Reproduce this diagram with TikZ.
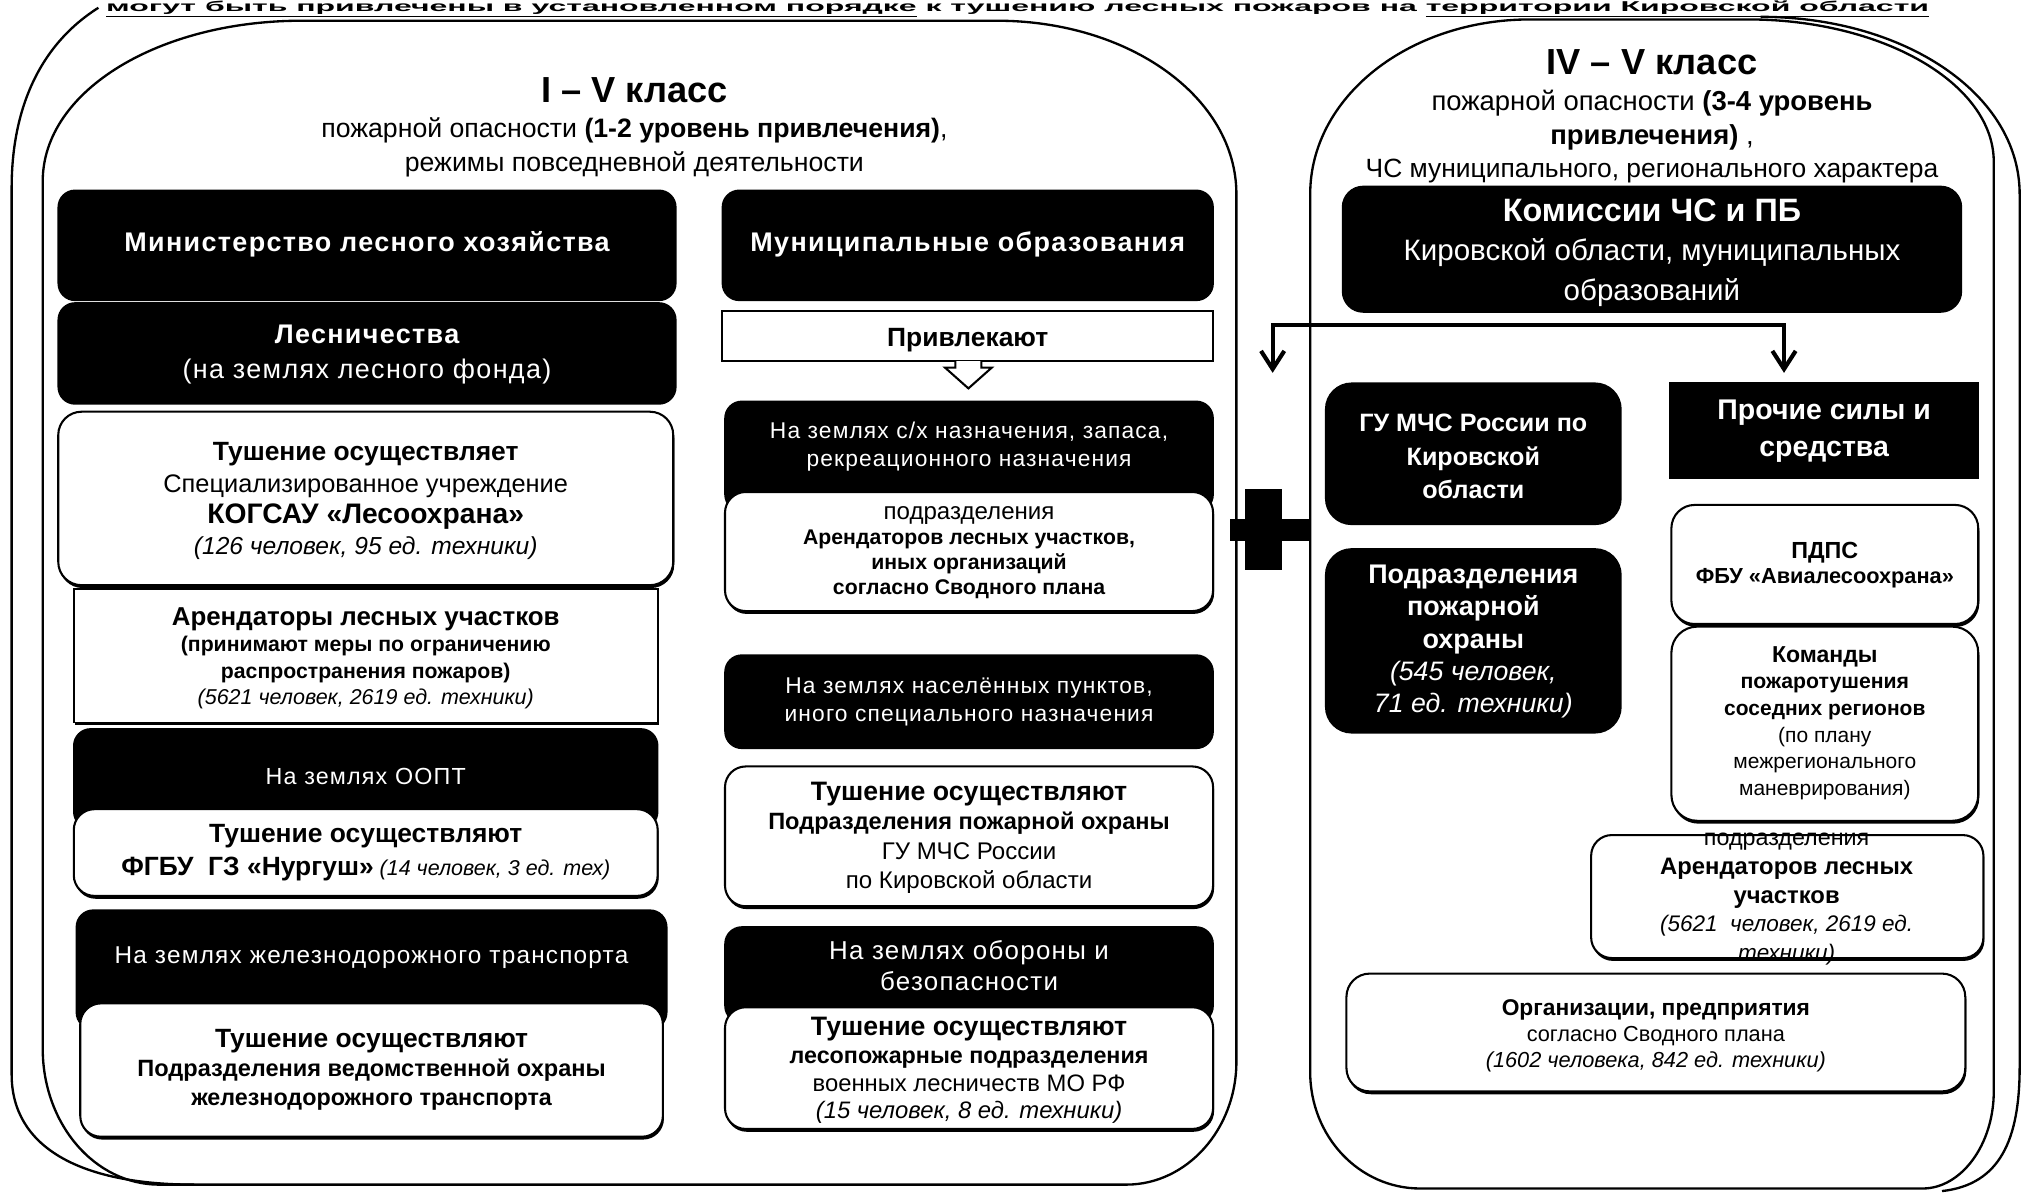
\documentclass[tikz,border=0pt]{standalone}
\usepackage{graphicx}
\usepackage{fontspec}
\setmainfont{Liberation Sans}
\newfontfamily\spc[LetterSpace=5]{Liberation Sans}
\usetikzlibrary{fit,shadows,arrows.meta}
\newcommand\sz[2]{{\fontsize{#1}{#1}\selectfont #2}}
\begin{document}
\begin{tikzpicture}[x=0.5pt,y=-0.5pt,
  bbox/.style={fill=black, draw=black, line width=0.6pt, rounded corners=6.5pt, inner sep=0pt},
  sqbox/.style={fill=black, draw=black, line width=0.6pt, inner sep=0pt},
  wbox/.style={fill=white, draw=black, line width=0.8pt, rounded corners=8pt, inner sep=0pt,
    drop shadow={shadow xshift=0.4pt, shadow yshift=-1.1pt, fill=black, opacity=1}},
  wrect/.style={fill=white, draw=black, line width=0.7pt, inner sep=0pt,
    drop shadow={shadow xshift=0.4pt, shadow yshift=-1.1pt, fill=black, opacity=1}},
  tw/.style={text=white, align=center, inner sep=0pt},
  tb/.style={text=black, align=center, inner sep=0pt},
  frame/.style={line width=0.9pt},
  conn/.style={line width=1.6pt, line join=miter},
]
\useasboundingbox (0,0) rectangle (1568,922);
\fill[white] (0,0) rectangle (1568,922);

% header
\node[anchor=base, inner sep=0pt] (head) at (786,8.6) {\resizebox{704pt}{4.1pt}{\bfseries \underline{могут быть привлечены в установленном порядке} к тушению лесных пожаров на \underline{территории Кировской области}}};

% panel frames
\draw[frame] (33,140) .. controls (33,70) and (123,16) .. (233,16) -- (770,16)
  .. controls (872,16) and (955,75) .. (955,150) -- (955,820)
  .. controls (955,872) and (917,915) .. (870,915) -- (123,915)
  .. controls (73,915) and (33,868) .. (33,810) -- cycle;
\draw[frame] (76,6) .. controls (30,35) and (9,85) .. (9,145) -- (9,830)
  .. controls (9,885) and (60,915) .. (150,915);
\draw[frame] (1012,150) .. controls (1012,75) and (1088,15) .. (1182,15) -- (1350,15)
  .. controls (1455,15) and (1540,65) .. (1540,125) -- (1540,843)
  .. controls (1540,884) and (1515,918) .. (1485,918) -- (1097,918)
  .. controls (1050,918) and (1012,878) .. (1012,828) -- cycle;
\draw[frame] (1360,13) .. controls (1470,13) and (1560,72) .. (1560,150) -- (1560,824)
  .. controls (1560,880) and (1545,915) .. (1500,920);

% titles
\node[tb] (t1a) at (490,70) {\sz{14}{\bfseries I – V класс}};
\node[tb] (t1b) at (490,101) {\sz{10.3}{пожарной опасности \textbf{(1-2 уровень привлечения)},}};
\node[tb] (t1c) at (490,127) {\sz{10.3}{режимы повседневной деятельности}};
\node[tb] (t2a) at (1276,48) {\sz{14}{\bfseries IV – V класс}};
\node[tb] (t2b) at (1276,80) {\sz{10.6}{пожарной опасности \textbf{(3-4 уровень}}};
\node[tb] (t2c) at (1276,106) {\sz{10.6}{\textbf{привлечения)} ,}};
\node[tb] (t2d) at (1276,132) {\sz{10.2}{ЧС муниципального, регионального характера}};

% ---------- left column ----------
\node[bbox, fit={(45,147) (522,232)}] (min) {};
\node[tw] (mint) at (283.5,189) {\sz{10.4}{\spc\bfseries Министерство лесного хозяйства}};
\node[bbox, fit={(45,234) (522,312)}] (les) {};
\node[tw, font=\fontsize{10}{13.5}\selectfont] (lest) at (283.5,273.5)
  {\sz{10.4}{\spc\bfseries Лесничества}\\ \sz{10.4}{\spc (на землях лесного фонда)}};
\node[wbox, rounded corners=9pt, fit={(45,318) (520,452)}] (tush1) {};
\node[tb, font=\fontsize{10}{12}\selectfont] (tush1t) at (282.5,387)
  {\sz{10.2}{\bfseries Тушение осуществляет}\\
   \sz{9.8}{Специализированное учреждение}\\
   \sz{10.9}{\bfseries КОГСАУ «Лесоохрана»}\\
   \sz{9.5}{\itshape (126 человек, 95 ед. техники)}};
\node[wrect, fit={(57,455) (508,558)}] (ar1) {};
\node[tb, font=\fontsize{9}{10.2}\selectfont] (ar1t) at (282.5,508.5)
  {\sz{10}{\bfseries Арендаторы лесных участков}\\
   \sz{8.2}{\bfseries (принимают меры по ограничению}\\
   \sz{8.2}{\bfseries распространения пожаров)}\\
   \sz{8.3}{\itshape (5621 человек, 2619 ед. техники)}};
\node[bbox, fit={(57,563) (508,640)}] (oopt) {};
\node[tw] (ooptt) at (282.5,600) {\sz{9}{\spc На землях ООПТ}};
\node[wbox, fit={(57,625) (508,692)}] (fgbu) {};
\node[tb, font=\fontsize{10}{12.5}\selectfont] (fgbut) at (282.5,658.5)
  {\sz{10.2}{\bfseries Тушение осуществляют}\\
   \sz{10.2}{\bfseries ФГБУ\ \ ГЗ «Нургуш»}\sz{8.3}{\itshape\ (14 человек, 3 ед. тех)}};
\node[bbox, fit={(59,703) (515,795)}] (jd) {};
\node[tw] (jdt) at (287,740) {\sz{9.4}{\spc На землях железнодорожного транспорта}};
\node[wbox, fit={(62,775) (512,878)}] (tush3) {};
\node[tb, font=\fontsize{10}{11.3}\selectfont] (tush3t) at (287,826.5)
  {\sz{10.2}{\bfseries Тушение осуществляют}\\
   \sz{9.1}{\bfseries Подразделения ведомственной охраны}\\
   \sz{9}{\bfseries железнодорожного транспорта}};

% ---------- middle column ----------
\node[bbox, fit={(558,147) (937,232)}] (mun) {};
\node[tw] (munt) at (747.5,189) {\sz{10.4}{\spc\bfseries Муниципальные образования}};
\node[fill=white, draw=black, line width=0.8pt, inner sep=0pt, fit={(558,240) (937,279)}] (priv) {};
\node[tb] (privt) at (747.5,263) {\sz{10.2}{\bfseries Привлекают}};
\draw[fill=white, line width=0.8pt, line join=miter] (738,279) -- (738,284) -- (730,284) -- (748,300) -- (766,284) -- (758,284) -- (758,279);
\node[bbox, fit={(560,310) (937,395)}] (sx) {};
\node[tw, font=\fontsize{9}{11}\selectfont] (sxt) at (748.5,345)
  {\sz{8.8}{\spc На землях с/х назначения, запаса,}\\ \sz{8.8}{\spc рекреационного назначения}};
\node[wbox, fit={(560,380) (937,472)}] (pod1) {};
\node[tb, font=\fontsize{9}{9.7}\selectfont] (pod1t) at (748.5,427)
  {\sz{9.3}{подразделения}\\
   \sz{8.2}{\bfseries Арендаторов лесных участков,}\\
   \sz{8.2}{\bfseries иных организаций}\\
   \sz{8.2}{\bfseries согласно Сводного плана}};
\node[bbox, fit={(560,506) (937,578)}] (nas) {};
\node[tw, font=\fontsize{9}{11}\selectfont] (nast) at (748.5,542)
  {\sz{8.8}{\spc На землях населённых пунктов,}\\ \sz{8.8}{\spc иного специального назначения}};
\node[wbox, fit={(560,592) (937,700)}] (tush4) {};
\node[tb, font=\fontsize{9}{11.4}\selectfont] (tush4t) at (748.5,647)
  {\sz{10.3}{\bfseries Тушение осуществляют}\\
   \sz{9.1}{\bfseries Подразделения пожарной охраны}\\
   \sz{9.3}{ГУ МЧС России}\\
   \sz{9.3}{по Кировской области}};
\node[bbox, fit={(560,716) (937,790)}] (obo) {};
\node[tw, font=\fontsize{10}{12}\selectfont] (obot) at (748.5,746)
  {\sz{10}{\spc На землях обороны и}\\ \sz{10}{\spc безопасности}};
\node[wbox, fit={(560,778) (937,872)}] (tush5) {};
\node[tb, font=\fontsize{9}{10.7}\selectfont] (tush5t) at (748.5,827)
  {\sz{10.3}{\bfseries Тушение осуществляют}\\
   \sz{9}{\bfseries лесопожарные подразделения}\\
   \sz{9.2}{военных лесничеств МО РФ}\\
   \sz{9.2}{\itshape (15 человек, 8 ед. техники)}};

% plus sign
\fill (962,378) rectangle (990,440);
\fill (950,401) rectangle (1011,418);

% ---------- right panel ----------
\node[bbox, rounded corners=8pt, fit={(1037,144) (1515,241)}] (kom) {};
\node[tw, font=\fontsize{11}{15.3}\selectfont] (komt) at (1276,195)
  {\sz{12.5}{\bfseries Комиссии ЧС и ПБ}\\
   \sz{11.4}{Кировской области, муниципальных}\\
   \sz{11.4}{образований}};
\coordinate (sL) at (983,251);
\coordinate (sR) at (1378,251);
\coordinate (eL) at (983,288);
\coordinate (eR) at (1378,288);
\draw[conn, {Straight Barb[length=7pt,width=9pt]}-{Straight Barb[length=7pt,width=9pt]}] (eL) -- (sL) -- (sR) -- (eR);

\node[bbox, rounded corners=10pt, fit={(1024,296) (1252,405)}] (gu) {};
\node[tw, font=\fontsize{10}{12.8}\selectfont] (gut) at (1138,352.5)
  {\sz{9.7}{\bfseries ГУ МЧС России по}\\ \sz{9.7}{\bfseries Кировской}\\ \sz{9.7}{\bfseries области}};
\node[bbox, rounded corners=10pt, fit={(1024,424) (1252,566)}] (podpo) {};
\node[tw, font=\fontsize{10}{12.4}\selectfont] (podpot) at (1138,495.5)
  {\sz{10.4}{\bfseries Подразделения}\\ \sz{10.4}{\bfseries пожарной}\\ \sz{10.4}{\bfseries охраны}\\
   \sz{10.3}{\itshape (545 человек,}\\ \sz{10.3}{\itshape 71 ед. техники)}};
\node[sqbox, fit={(1290,296) (1528,369)}] (proch) {};
\node[tw, font=\fontsize{11}{14.3}\selectfont] (procht) at (1409,333)
  {\sz{11}{\bfseries Прочие силы и}\\ \sz{11}{\bfseries средства}};
\node[wbox, rounded corners=9pt, fit={(1291,390) (1528,482)}] (pdps) {};
\node[tb, font=\fontsize{9}{10}\selectfont] (pdpst) at (1409.5,436.5)
  {\sz{9}{\bfseries ПДПС}\\ \sz{8.4}{\bfseries ФБУ «Авиалесоохрана»}};
\node[wbox, rounded corners=10pt, fit={(1291,484) (1528,634)}] (kom2) {};
\node[tb, font=\fontsize{8.5}{10.3}\selectfont] (kom2t) at (1409.5,558.5)
  {\sz{8.9}{\bfseries Команды}\\
   \sz{8.2}{\bfseries пожаротушения}\\
   \sz{8.1}{\bfseries соседних регионов}\\
   \sz{8.1}{(по плану}\\
   \sz{8.1}{межрегионального}\\
   \sz{8.1}{маневрирования)}};
\node[wbox, fit={(1229,645) (1532,740)}] (pod2) {};
\node[tb, font=\fontsize{9}{11.15}\selectfont] (pod2t) at (1380,694.5)
  {\sz{9}{подразделения}\\
   \sz{9.2}{\bfseries Арендаторов лесных}\\
   \sz{9.2}{\bfseries участков}\\
   \sz{8.7}{\itshape (5621\ \ человек, 2619 ед.}\\
   \sz{8.7}{\itshape техники)}};
\node[wbox, rounded corners=9pt, fit={(1040,752) (1518,843)}] (org) {};
\node[tb, font=\fontsize{8.5}{10.2}\selectfont] (orgt) at (1279,800)
  {\sz{8.8}{\bfseries Организации, предприятия}\\
   \sz{8.4}{согласно Сводного плана}\\
   \sz{8.4}{\itshape (1602 человека, 842 ед. техники)}};
\end{tikzpicture}
\end{document}
